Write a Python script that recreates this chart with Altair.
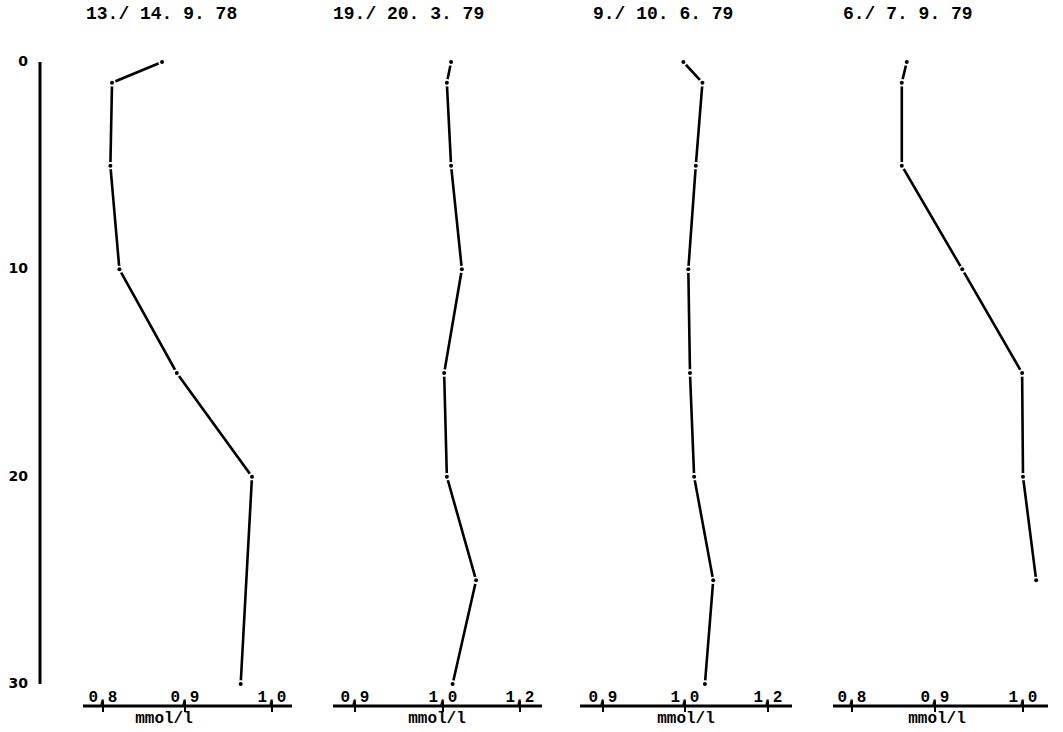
import altair as alt
import pandas as pd

# Sampling dates of the four profiles
titles = ["13./ 14. 9. 78", "19./ 20. 3. 79", "9./ 10. 6. 79", "6./ 7. 9. 79"]

# Depth (m) and concentration (mmol/l) of each profile
depth_a = [0, 1, 5, 10, 15, 20, 30]
conc_a = [0.872, 0.811, 0.809, 0.820, 0.890, 0.977, 0.964]

depth_b = [0, 1, 5, 10, 15, 20, 25, 30]
conc_b = [1.021, 1.010, 1.021, 1.049, 1.003, 1.010, 1.086, 1.025]

depth_c = [0, 1, 5, 10, 15, 20, 25, 30]
conc_c = [0.998, 1.042, 1.026, 1.008, 1.012, 1.022, 1.068, 1.048]

depth_d = [0, 1, 5, 10, 15, 20, 25]
conc_d = [0.866, 0.860, 0.860, 0.931, 0.999, 1.000, 1.015]

# Concentration axes
tick_values = [[0.8, 0.9, 1.0], [0.9, 1.0, 1.2], [0.9, 1.0, 1.2], [0.8, 0.9, 1.0]]
tick_labels = [["0,8", "0,9", "1,0"], ["0,9", "1,0", "1,2"],
               ["0,9", "1,0", "1,2"], ["0,8", "0,9", "1,0"]]
unit = "mmol/l"

# Depth axis
depth_ticks = [0, 10, 20, 30]

# Page layout in pixels
W, H = 1063, 732
x_ranges = [[103, 185, 272], [355, 443, 520], [603, 685, 768], [852, 935, 1023]]
axis_spans = [(83, 292), (333, 542), (580, 792), (833, 1048)]
title_x = [86, 333, 593, 843]
unit_x = [164, 437, 686, 937]
axis_y = 706
depth_range = [62, 684]
depth_axis_x = 40

MONO = "Liberation Mono"
SANS = "DejaVu Sans"

yscale = alt.Scale(domain=[depth_ticks[0], depth_ticks[-1]], range=depth_range)

profiles = [(depth_a, conc_a), (depth_b, conc_b), (depth_c, conc_c), (depth_d, conc_d)]

layers = []

# Depth axis: vertical bar with labels on its left
depth_df = pd.DataFrame({"d": depth_ticks, "label": [str(v) for v in depth_ticks]})
span_df = pd.DataFrame({"top": [depth_ticks[0]], "bottom": [depth_ticks[-1]]})
layers.append(
    alt.Chart(span_df).mark_rule(color="black", strokeWidth=3).encode(
        x=alt.value(depth_axis_x),
        y=alt.Y("top:Q", scale=yscale, axis=None),
        y2="bottom:Q",
    )
)
layers.append(
    alt.Chart(depth_df).mark_text(
        font=SANS, fontSize=14, fontWeight="bold", align="right", baseline="middle", color="black"
    ).encode(
        x=alt.value(depth_axis_x - 12),
        y=alt.Y("d:Q", scale=yscale, axis=None),
        text="label:N",
    )
)

for i, (depths, concs) in enumerate(profiles):
    xscale = alt.Scale(domain=tick_values[i], range=x_ranges[i])
    df = pd.DataFrame({"depth": depths, "conc": concs})
    x_enc = alt.X("conc:Q", scale=xscale, axis=None)
    y_enc = alt.Y("depth:Q", scale=yscale, axis=None)

    # profile line, broken around each sample point
    layers.append(
        alt.Chart(df).mark_line(color="black", strokeWidth=2.6, strokeCap="round").encode(
            x=x_enc, y=y_enc, order=alt.Order("depth:Q")
        )
    )
    layers.append(
        alt.Chart(df).mark_circle(color="white", size=55, opacity=1).encode(x=x_enc, y=y_enc)
    )
    layers.append(
        alt.Chart(df).mark_circle(color="black", size=16, opacity=1).encode(x=x_enc, y=y_enc)
    )

    # concentration axis
    a0, a1 = axis_spans[i]
    layers.append(
        alt.Chart(pd.DataFrame({"k": [0]})).mark_rule(color="black", strokeWidth=3).encode(
            x=alt.value(a0), x2=alt.value(a1), y=alt.value(axis_y)
        )
    )
    tick_df = pd.DataFrame({"v": tick_values[i], "label": tick_labels[i]})
    layers.append(
        alt.Chart(tick_df).mark_rule(color="black", strokeWidth=2).encode(
            x=alt.X("v:Q", scale=xscale, axis=None),
            y=alt.value(axis_y - 5),
            y2=alt.value(axis_y + 6),
        )
    )
    layers.append(
        alt.Chart(tick_df).mark_text(
            font=MONO, fontSize=16, fontWeight="bold", baseline="alphabetic", color="black"
        ).encode(
            x=alt.X("v:Q", scale=xscale, axis=None),
            y=alt.value(axis_y - 4),
            text="label:N",
        )
    )
    layers.append(
        alt.Chart(pd.DataFrame({"t": [unit]})).mark_text(
            font=MONO, fontSize=16, fontWeight="bold", baseline="middle", color="black"
        ).encode(x=alt.value(unit_x[i]), y=alt.value(axis_y + 12), text="t:N")
    )
    layers.append(
        alt.Chart(pd.DataFrame({"t": [titles[i]]})).mark_text(
            font=MONO, fontSize=18, fontWeight="bold", align="left", baseline="middle", color="black"
        ).encode(x=alt.value(title_x[i]), y=alt.value(14), text="t:N")
    )

chart = (
    alt.layer(*layers)
    .resolve_scale(x="independent", y="shared")
    .properties(width=W, height=H, padding=0, autosize=alt.AutoSizeParams(type="none"),
                background="white")
    .configure_view(stroke=None)
)

chart.save("out.html", embed_options={"renderer": "svg", "actions": False})
